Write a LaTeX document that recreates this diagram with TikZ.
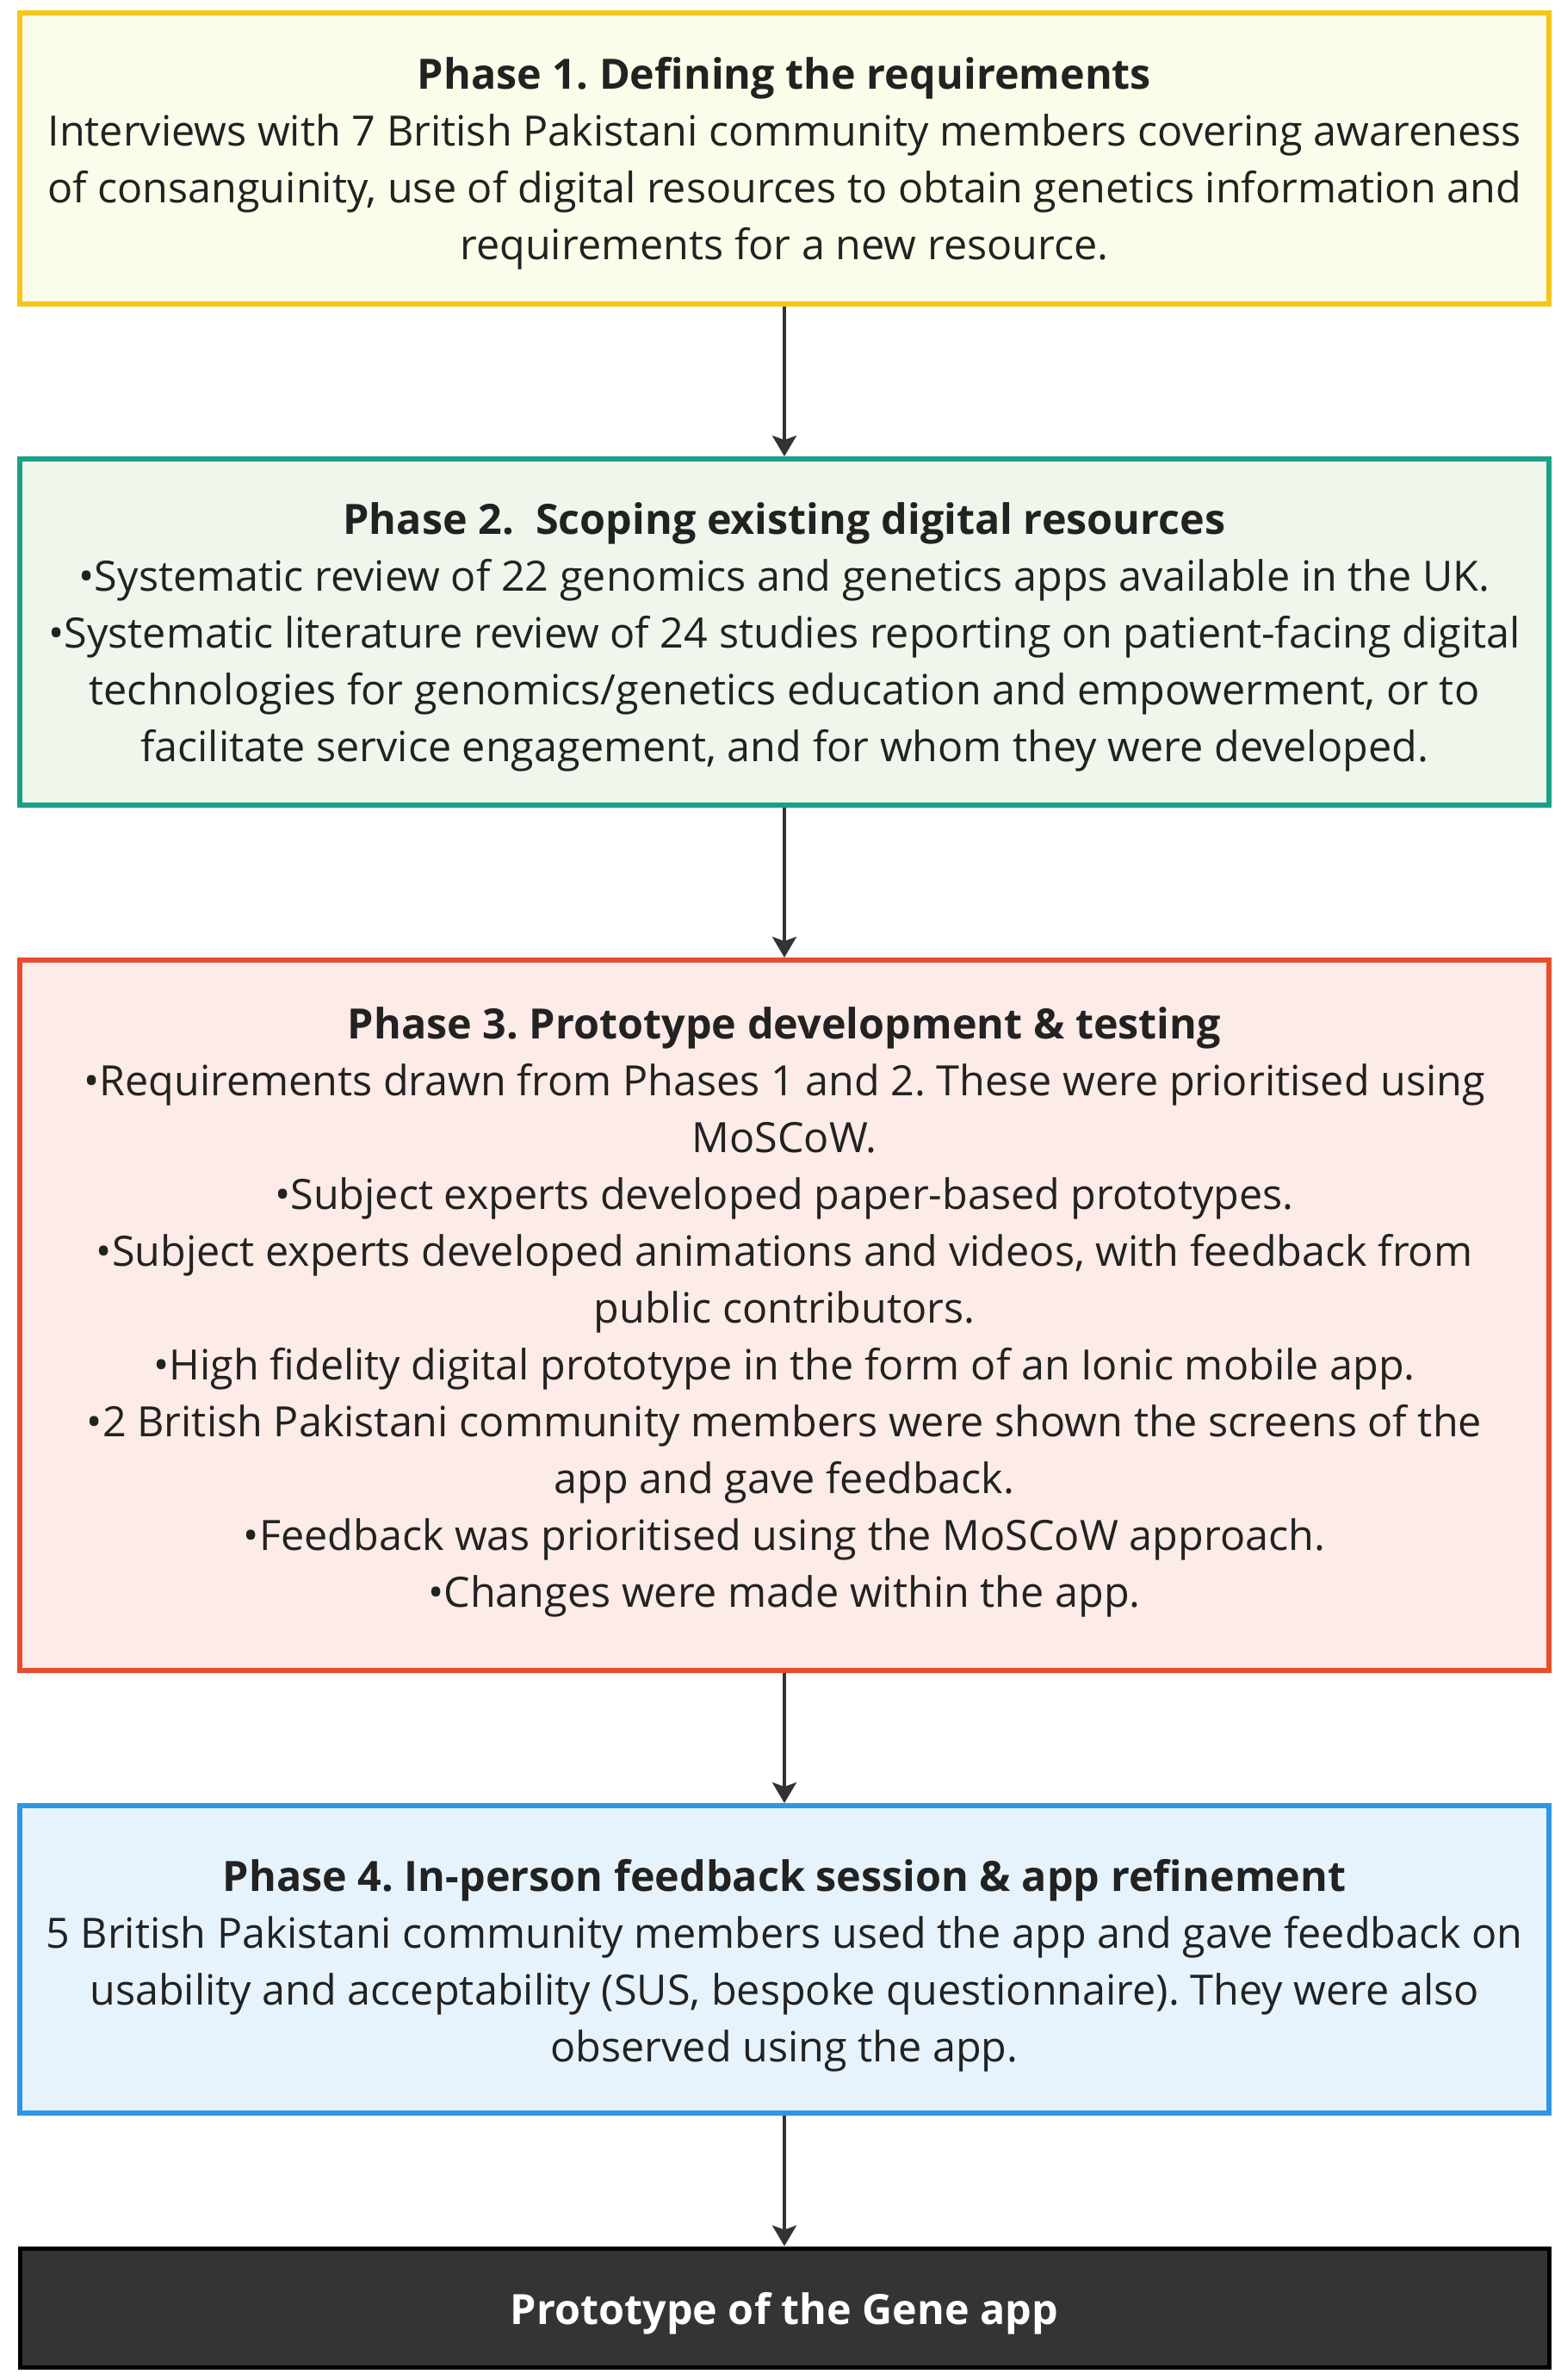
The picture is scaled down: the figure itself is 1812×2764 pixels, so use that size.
\documentclass[tikz,border=0pt]{standalone}
\usepackage{fontspec}
\setmainfont{Open Sans}
\usetikzlibrary{arrows.meta}
\definecolor{yb}{RGB}{245,197,24}
\definecolor{yf}{RGB}{251,252,233}
\definecolor{tb}{RGB}{26,160,136}
\definecolor{tf}{RGB}{239,247,236}
\definecolor{rb}{RGB}{232,77,45}
\definecolor{rf}{RGB}{253,235,231}
\definecolor{bb}{RGB}{45,150,230}
\definecolor{bf}{RGB}{231,243,252}
\definecolor{kf}{RGB}{52,52,52}
\definecolor{txt}{RGB}{34,34,34}
\definecolor{arr}{RGB}{51,51,51}
\frenchspacing
\begin{document}
\begin{tikzpicture}[x=1pt,y=-1pt,
  box/.style={draw, line width=6pt, minimum width=1776pt, inner sep=0pt},
  label text/.style={align=center, inner sep=0pt, text=txt,
    font=\fontsize{48.5}{66}\selectfont\frenchspacing},
  link/.style={line width=4pt, draw=arr,
    -{Stealth[length=24pt,width=28pt,inset=5pt]}}]
\useasboundingbox (0,0) rectangle (1812,2764);
\node[box, draw=yb, fill=yf, minimum height=338pt] (p1) at (911,184) {};
\node[box, draw=tb, fill=tf, minimum height=402pt] (p2) at (911,734) {};
\node[box, draw=rb, fill=rf, minimum height=825pt] (p3) at (911,1527.5) {};
\node[box, draw=bb, fill=bf, minimum height=357pt] (p4) at (911,2275.5) {};
\node[box, draw=black, fill=kf, line width=5pt, minimum height=138pt] (p5) at (911,2680) {};
\node[label text, yshift=-6pt] (t1) at (p1.center)
  {\textbf{Phase 1. Defining the requirements}\\
   Interviews with 7 British Pakistani community members covering awareness\\
   of consanguinity, use of digital resources to obtain genetics information and\\
   requirements for a new resource.};
\node[label text, yshift=-6pt] (t2) at (p2.center)
  {\textbf{Phase 2.\ \ Scoping existing digital resources}\\
   •Systematic review of 22 genomics and genetics apps available in the UK.\\
   •Systematic literature review of 24 studies reporting on patient-facing digital\\
   technologies for genomics/genetics education and empowerment, or to\\
   facilitate service engagement, and for whom they were developed.};
\node[label text, yshift=4pt] (t3) at (p3.center)
  {\textbf{Phase 3. Prototype development \& testing}\\
   •Requirements drawn from Phases 1 and 2. These were prioritised using\\
   MoSCoW.\\
   •Subject experts developed paper-based prototypes.\\
   •Subject experts developed animations and videos, with feedback from\\
   public contributors.\\
   •High fidelity digital prototype in the form of an Ionic mobile app.\\
   •2 British Pakistani community members were shown the screens of the\\
   app and gave feedback.\\
   •Feedback was prioritised using the MoSCoW approach.\\
   •Changes were made within the app.};
\node[label text, yshift=-7pt] (t4) at (p4.center)
  {\textbf{Phase 4. In-person feedback session \& app refinement}\\
   5 British Pakistani community members used the app and gave feedback on\\
   usability and acceptability (SUS, bespoke questionnaire). They were also\\
   observed using the app.};
\node[label text, text=white, yshift=-7pt] (t5) at (p5.center)
  {\textbf{Prototype of the Gene app}};
\draw[link] (p1.south) -- (p2.north);
\draw[link] (p2.south) -- (p3.north);
\draw[link] (p3.south) -- (p4.north);
\draw[link] (p4.south) -- (p5.north);
\end{tikzpicture}
\end{document}
